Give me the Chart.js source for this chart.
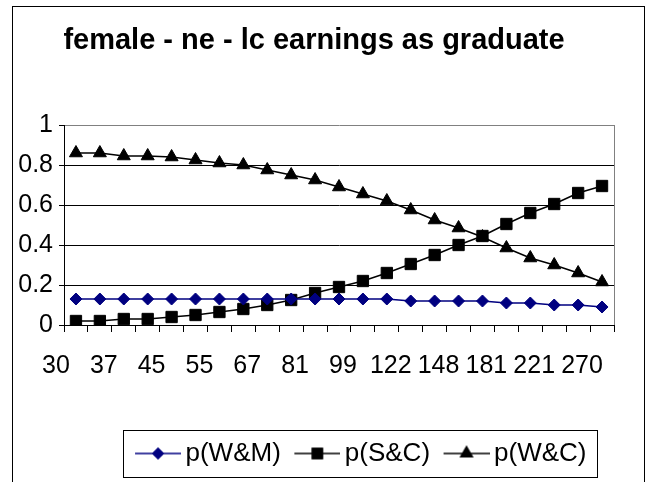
<!DOCTYPE html>
<html>
<head>
<meta charset="utf-8">
<script src="https://cdn.jsdelivr.net/npm/chart.js@4/dist/chart.umd.min.js"></script>
<style>
  html, body { margin: 0; padding: 0; background: #fff; }
  #wrap { position: relative; width: 650px; height: 482px; overflow: hidden; }
  #frame { position: absolute; left: 12px; top: 6px; width: 633px; height: 520px; box-sizing: border-box; border: 1px solid #000; pointer-events: none; }
  canvas { position: absolute; left: 0; top: 0; }
</style>
</head>
<body>
<div id="wrap">
  <canvas id="c" width="650" height="482"></canvas>
  <div id="frame"></div>
</div>
<script>
// ---- data ----
const titleText = 'female - ne - lc earnings as graduate';
const categories = [30, 33, 37, 41, 45, 50, 55, 61, 67, 74, 81, 90, 99, 110, 122, 134, 148, 164, 181, 200, 221, 244, 270];
const seriesNames = ['p(W&M)', 'p(S&C)', 'p(W&C)'];
const pWM = [0.13, 0.13, 0.13, 0.13, 0.13, 0.13, 0.13, 0.13, 0.13, 0.13, 0.13, 0.13, 0.13, 0.13, 0.12, 0.12, 0.12, 0.12, 0.11, 0.11, 0.10, 0.10, 0.09];
const pSC = [0.02, 0.02, 0.03, 0.03, 0.04, 0.05, 0.065, 0.08, 0.10, 0.125, 0.16, 0.19, 0.22, 0.26, 0.305, 0.35, 0.40, 0.445, 0.505, 0.56, 0.605, 0.66, 0.695];
const pWC = [0.86, 0.86, 0.845, 0.845, 0.84, 0.825, 0.81, 0.80, 0.775, 0.75, 0.725, 0.69, 0.655, 0.62, 0.575, 0.525, 0.485, 0.44, 0.385, 0.335, 0.30, 0.26, 0.215];
const yTicks = [0, 0.2, 0.4, 0.6, 0.8, 1];

const FONT = "'Liberation Sans', Arial, Helvetica, sans-serif";
const NAVY = '#000080';

const styles = [
  { color: NAVY, pointStyle: 'rectRot', radius: 6, legendRadius: 5 },
  { color: '#000', pointStyle: 'rect', radius: 8, legendRadius: 7 },
  { color: '#000', pointStyle: 'triangle', radius: 7.5, legendRadius: 6.5 }
];

// legend sample images: line with marker (drawn with Chart.js helpers)
function makeSample(st) {
  const cv = document.createElement('canvas');
  cv.width = 58; cv.height = 18;
  const ctx = cv.getContext('2d');
  ctx.strokeStyle = st.color;
  ctx.lineWidth = 1.5;
  ctx.beginPath(); ctx.moveTo(12, 9); ctx.lineTo(58, 9); ctx.stroke();
  ctx.fillStyle = st.color;
  Chart.helpers.drawPoint(ctx, { pointStyle: st.pointStyle, radius: st.legendRadius, borderWidth: 1, rotation: 0 }, 35, 9);
  ctx.fill();
  ctx.stroke();
  return cv;
}
const legendImgs = styles.map(makeSample);

const plotFrame = {
  id: 'plotFrame',
  afterLayout(chart) {
    const lg = chart.legend;
    if (lg) { lg.left += 45; lg.right += 45; }
  },
  afterDatasetsDraw(chart) {
    const a = chart.chartArea, ctx = chart.ctx;
    ctx.save();
    ctx.strokeStyle = '#808080';
    ctx.lineWidth = 1;
    ctx.beginPath();
    ctx.moveTo(Math.round(a.right) + 0.5, a.top);
    ctx.lineTo(Math.round(a.right) + 0.5, a.bottom);
    ctx.stroke();
    ctx.restore();
  },
  afterDraw(chart) {
    const hb = chart.legend && chart.legend.legendHitBoxes;
    if (!hb || !hb.length) return;
    const ctx = chart.ctx;
    const first = hb[0], last = hb[hb.length - 1];
    const cy = first.top + first.height / 2;
    const l = first.left - 9, r = last.left + last.width + 10;
    ctx.save();
    ctx.strokeStyle = '#000';
    ctx.lineWidth = 1;
    ctx.strokeRect(Math.round(l) + 0.5, Math.round(cy - 23.5) + 0.5, Math.round(r - l), 47);
    ctx.restore();
  }
};

const datasets = [pWM, pSC, pWC].map((d, i) => ({
  label: seriesNames[i],
  data: d,
  borderColor: styles[i].color,
  backgroundColor: styles[i].color,
  borderWidth: 1.5,
  pointStyle: styles[i].pointStyle,
  pointRadius: styles[i].radius,
  pointBorderWidth: 1,
  pointBackgroundColor: styles[i].color,
  pointBorderColor: styles[i].color,
  tension: 0,
  fill: false
}));

new Chart(document.getElementById('c'), {
  type: 'line',
  data: { labels: categories.map(String), datasets },
  plugins: [plotFrame],
  options: {
    responsive: false,
    animation: false,
    layout: { padding: { left: 14, right: 36, top: 0, bottom: 5.5 } },
    plugins: {
      title: {
        display: true,
        text: titleText,
        color: '#000',
        font: { family: FONT, size: 29, weight: 'bold' },
        padding: { top: 24, bottom: 66.2 }
      },
      legend: {
        display: true,
        position: 'bottom',
        align: 'center',
        labels: {
          color: '#000',
          font: { family: FONT, size: 26 },
          usePointStyle: true,
          pointStyleWidth: 41,
          padding: 10,
          generateLabels(chart) {
            const items = Chart.defaults.plugins.legend.labels.generateLabels(chart);
            items.forEach((it, i) => { it.pointStyle = legendImgs[i]; });
            return items;
          }
        }
      },
      tooltip: { enabled: false }
    },
    scales: {
      x: {
        type: 'category',
        offset: true,
        afterFit(s) { s.height = 105.5; },
        grid: { offset: true, drawOnChartArea: false, drawTicks: true, tickLength: 7, color: '#000', lineWidth: 1 },
        border: { display: true, color: '#000', width: 1 },
        ticks: {
          autoSkip: false,
          maxRotation: 0,
          minRotation: 0,
          color: '#000',
          font: { family: FONT, size: 25 },
          padding: 19,
          labelOffset: -20,
          callback(v, i) { return i % 2 === 0 ? String(categories[i]) : ''; }
        }
      },
      y: {
        min: 0,
        max: 1,
        afterFit(s) { s.width = 50; },
        afterBuildTicks(s) { s.ticks = yTicks.map(v => ({ value: v })); },
        grid: {
          color: (c) => (c.tick && c.tick.value === 1 ? '#808080' : '#000'),
          tickColor: '#000',
          lineWidth: 1,
          drawTicks: true,
          tickLength: 5
        },
        border: { display: true, color: '#000', width: 1 },
        ticks: {
          color: '#000',
          font: { family: FONT, size: 25 },
          padding: 6,
          callback(v) { return String(v); }
        }
      }
    }
  }
});
</script>
</body>
</html>
